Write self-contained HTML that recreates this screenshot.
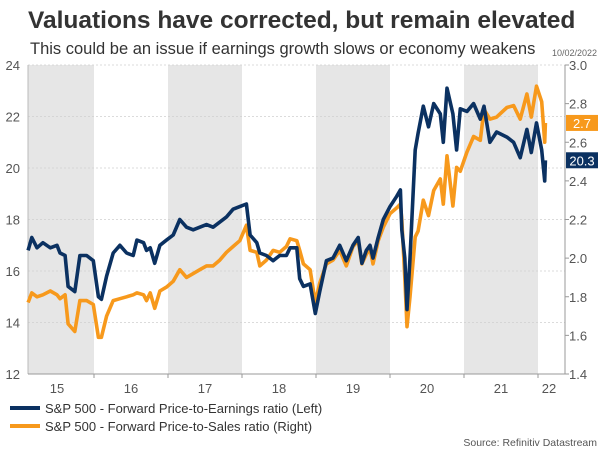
<!DOCTYPE html>
<html><head><meta charset="utf-8"><style>
html,body{margin:0;padding:0;background:#fff;}
body{width:600px;height:450px;overflow:hidden;font-family:"Liberation Sans",Arial,sans-serif;}
</style></head><body>
<svg id="chart" width="600" height="450" viewBox="0 0 600 450" xmlns="http://www.w3.org/2000/svg" font-family="Liberation Sans, Arial, sans-serif">
<text x="28" y="28" font-size="24.5" font-weight="bold" fill="#333">Valuations have corrected, but remain elevated</text>
<text x="30" y="54" font-size="16.5" fill="#333">This could be an issue if earnings growth slows or economy weakens</text>
<text x="597" y="56" font-size="9" fill="#666" text-anchor="end">10/02/2022</text>
<g id="bands"></g><g id="grid"></g><g id="axes"></g><g id="series"></g><g id="labels"></g>
<g>
<line x1="10" y1="408" x2="40" y2="408" stroke="#0b3161" stroke-width="4"/>
<text x="45" y="413" font-size="13" fill="#333">S&amp;P 500 - Forward Price-to-Earnings ratio (Left)</text>
<line x1="10" y1="426" x2="40" y2="426" stroke="#f7991c" stroke-width="4"/>
<text x="45" y="431" font-size="13" fill="#333">S&amp;P 500 - Forward Price-to-Sales ratio (Right)</text>
</g>
<text x="597" y="446" font-size="10.5" fill="#555" text-anchor="end">Source: Refinitiv Datastream</text>
</svg>
<script>
const dates=[2015.11,2015.16,2015.23,2015.31,2015.41,2015.50,2015.54,2015.61,2015.65,2015.74,2015.81,2015.90,2015.99,
2016.06,2016.10,2016.17,2016.26,2016.35,2016.44,2016.53,2016.58,2016.67,2016.71,2016.76,2016.82,2016.89,2016.98,
2017.07,2017.16,2017.25,2017.34,2017.43,2017.52,2017.61,2017.70,2017.79,2017.88,2017.97,
2018.06,2018.11,2018.20,2018.24,2018.33,2018.42,2018.51,2018.60,2018.65,2018.74,
2018.78,2018.83,2018.92,2018.99,2019.05,2019.14,2019.23,2019.32,2019.41,2019.50,2019.57,2019.62,2019.68,2019.73,2019.77,2019.84,2019.91,
2020.00,2020.09,2020.14,2020.16,2020.20,2020.23,2020.27,2020.34,2020.38,2020.45,2020.52,2020.59,2020.68,2020.72,2020.77,2020.85,2020.90,2020.95,
2021.04,2021.13,2021.22,2021.27,2021.35,2021.44,2021.58,2021.67,2021.76,2021.85,2021.91,2021.98,2022.05,2022.09,2022.10];
const peValues=[16.8,17.3,16.9,17.1,16.9,17.0,16.7,16.6,15.4,15.2,16.6,16.6,16.4,
15.0,14.9,15.8,16.7,17.0,16.7,16.6,17.2,17.1,16.8,16.9,16.3,17.0,17.2,
17.4,18.0,17.7,17.6,17.7,17.8,17.7,17.9,18.1,18.4,18.5,
18.6,17.4,17.1,16.7,16.6,16.4,16.6,16.6,16.9,16.9,
15.7,15.4,15.5,14.35,15.2,16.4,16.5,17.0,16.4,17.0,17.3,16.3,16.8,17.0,16.5,17.3,18.0,
18.5,18.9,19.15,17.6,16.5,14.5,16.5,20.7,21.35,22.4,21.6,22.5,22.1,21.0,23.1,22.1,20.7,22.3,
22.2,22.5,21.9,22.4,21.0,21.4,21.2,21.0,20.4,21.5,20.6,21.75,20.7,19.5,20.3];
const psValues=[1.77,1.82,1.80,1.81,1.83,1.81,1.79,1.81,1.66,1.62,1.78,1.78,1.76,
1.59,1.59,1.70,1.78,1.79,1.80,1.81,1.82,1.81,1.78,1.82,1.74,1.83,1.85,
1.88,1.94,1.90,1.92,1.94,1.96,1.96,1.99,2.03,2.06,2.09,
2.17,2.04,2.03,1.96,1.99,2.04,2.03,2.06,2.10,2.09,
2.04,1.97,1.94,1.77,1.87,1.97,1.99,2.04,1.96,2.06,2.09,1.97,2.02,2.05,1.97,2.09,2.16,
2.23,2.26,2.28,2.20,1.90,1.645,1.80,2.11,2.14,2.30,2.22,2.35,2.41,2.28,2.53,2.27,2.47,2.45,
2.55,2.63,2.61,2.77,2.72,2.73,2.78,2.79,2.72,2.85,2.73,2.89,2.81,2.60,2.70];
const leftTicks=[12,14,16,18,20,22,24];
const rightTicks=[1.4,1.6,1.8,2.0,2.2,2.4,2.6,2.8,3.0];
const yearLabels=["15","16","17","18","19","20","21","22"];
const lastPE="20.3", lastPS="2.7";

const NS="http://www.w3.org/2000/svg";
const L=28,R=565,T=65,B=374;
const x=t=>20+(t-2015)*74;
const yL=v=>B-(v-12)/12*(B-T);
const yR=v=>B-(v-1.4)/1.6*(B-T);
function mk(tag,attrs,parent){const e=document.createElementNS(NS,tag);for(const k in attrs)e.setAttribute(k,attrs[k]);document.getElementById(parent).appendChild(e);return e;}

[2015,2017,2019,2021].forEach(yr=>{
  const x0=Math.max(L,x(yr)),x1=x(yr+1);
  const r=mk('rect',{x:x0,y:T,width:x1-x0,height:B-T,fill:'#e6e6e6'},'bands');
  
  
});
leftTicks.forEach(v=>{
  const g=mk('line',{x1:L,x2:R,y1:yL(v),y2:yL(v),stroke:'#cfcfcf','stroke-width':0.8,'stroke-dasharray':'2,2'},'grid');
  
  
  const t=mk('text',{x:20,y:yL(v)+5,'font-size':13,fill:'#555','text-anchor':'end'},'axes');
  t.textContent=v;
  
  
});
rightTicks.forEach(v=>{
  mk('line',{x1:R,x2:R+4,y1:yR(v),y2:yR(v),stroke:'#999'},'axes');
  const t=mk('text',{x:569,y:yR(v)+5,'font-size':13,fill:'#555'},'axes');
  t.textContent=v.toFixed(1);
  
  
});
const ra=mk('line',{x1:R,x2:R,y1:T,y2:B,stroke:'#999'},'axes');


const la=mk('line',{x1:L,x2:L,y1:T,y2:B,stroke:'#bbb'},'axes');


const xa=mk('line',{x1:L,x2:R,y1:B,y2:B,stroke:'#999'},'axes');


yearLabels.forEach((s,i)=>{
  const yr=2015+i;
  if(i>0) mk('line',{x1:x(yr),x2:x(yr),y1:B,y2:B+4,stroke:'#999'},'axes');
  const cx=i===yearLabels.length-1? x(yr)+11 : x(yr)+37;
  const t=mk('text',{x:cx,y:393,'font-size':13,fill:'#555','text-anchor':'middle'},'axes');
  t.textContent=s;
  
  
});
function path(vals,yf){return vals.map((v,i)=>(i?'L':'M')+x(dates[i]).toFixed(1)+','+yf(v).toFixed(1)).join('');}
const ps=mk('path',{d:path(psValues,yR),fill:'none',stroke:'#f7991c','stroke-width':3.6,'stroke-linejoin':'round'},'series');


const pe=mk('path',{d:path(peValues,yL),fill:'none',stroke:'#0b3161','stroke-width':3.6,'stroke-linejoin':'round'},'series');


function endLabel(txt,cy,color,name){
  const r=mk('rect',{x:566,y:cy-8,width:32,height:16,fill:color},'labels');
  
  
  const t=mk('text',{x:582,y:cy+5,'font-size':13,fill:'#fff','text-anchor':'middle'},'labels');
  t.textContent=txt;
  
  
}
endLabel(lastPS,yR(parseFloat(lastPS)),'#f7991c','last-ps-label');
endLabel(lastPE,yL(parseFloat(lastPE)),'#0b3161','last-pe-label');
</script>
</body></html>
